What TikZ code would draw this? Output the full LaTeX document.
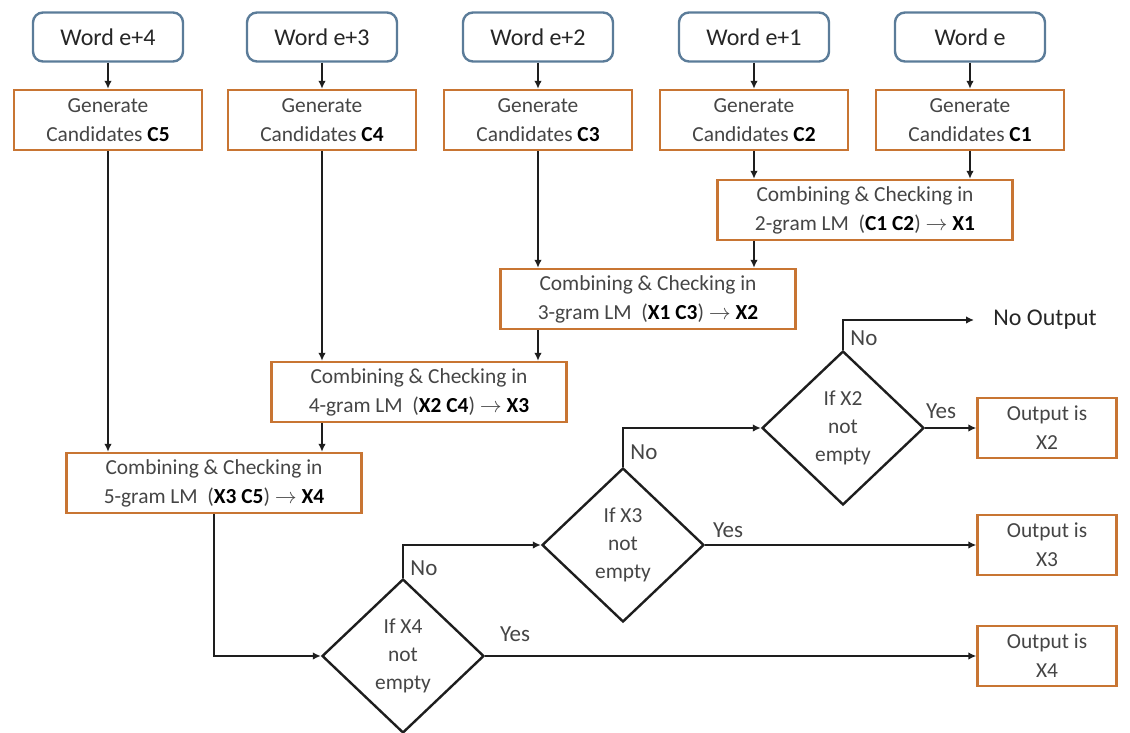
\documentclass[tikz,border=0pt]{standalone}
\usepackage{fontspec}
\setmainfont{Carlito}
\usetikzlibrary{shapes.geometric,arrows.meta,calc}
\definecolor{wordblue}{HTML}{5B7C99}
\definecolor{boxorange}{HTML}{C87533}
\definecolor{txtgray}{HTML}{454545}
\definecolor{linegray}{HTML}{1E1E1E}
\tikzset{
  wordbox/.style={draw=wordblue, line width=1.2pt, rounded corners=5pt, fill=white,
    minimum width=75pt, minimum height=24.5pt, inner sep=2pt, text=black!85,
    font=\fontsize{12}{14}\selectfont},
  genbox/.style={draw=boxorange, line width=1.2pt, fill=white, minimum width=94pt,
    minimum height=30pt, inner sep=2pt, align=center, text=txtgray,
    font=\fontsize{10.7}{14.5}\selectfont},
  combbox/.style={genbox, minimum width=147.5pt},
  outbox/.style={genbox, minimum width=69.5pt},
  decision/.style={draw=linegray, line width=1.2pt, diamond, minimum width=81pt,
    minimum height=77pt, inner sep=0pt, align=center, text=txtgray,
    font=\fontsize{10.7}{14}\selectfont},
  flow/.style={draw=linegray, line width=1.15pt, -{Latex[length=4pt,width=3.8pt]}},
  lbl/.style={inner sep=0pt, text=txtgray, font=\fontsize{11.5}{13}\selectfont},
}
\newcommand{\bx}[1]{\textbf{\color{black}#1}}
\begin{document}
\begin{tikzpicture}[x=0.5pt,y=-0.5pt]
\useasboundingbox (0,0) rectangle (1130,733);
% word nodes
\node[wordbox] (w5) at (108,37) {Word e+4};
\node[wordbox] (w4) at (322,37) {Word e+3};
\node[wordbox] (w3) at (538,37) {Word e+2};
\node[wordbox] (w2) at (754,37) {Word e+1};
\node[wordbox] (w1) at (970,37) {Word e};
% generate nodes
\node[genbox] (g5) at (108,120) {Generate\\Candidates \bx{C5}};
\node[genbox] (g4) at (322,120) {Generate\\Candidates \bx{C4}};
\node[genbox] (g3) at (538,120) {Generate\\Candidates \bx{C3}};
\node[genbox] (g2) at (754,120) {Generate\\Candidates \bx{C2}};
\node[genbox] (g1) at (970,120) {Generate\\Candidates \bx{C1}};
% combining nodes
\node[combbox] (c2) at (865,210) {Combining \& Checking in\\2-gram LM~~(\bx{C1 C2}) $\rightarrow$ \bx{X1}};
\node[combbox] (c3) at (648,299) {Combining \& Checking in\\3-gram LM~~(\bx{X1 C3}) $\rightarrow$ \bx{X2}};
\node[combbox] (c4) at (419,392) {Combining \& Checking in\\4-gram LM~~(\bx{X2 C4}) $\rightarrow$ \bx{X3}};
\node[combbox] (c5) at (214,483) {Combining \& Checking in\\5-gram LM~~(\bx{X3 C5}) $\rightarrow$ \bx{X4}};
% decisions
\node[decision] (d4) at (403,656) {If X4\\not\\empty};
\node[decision] (d3) at (623,545) {If X3\\not\\empty};
\node[decision] (d2) at (843,428) {If X2\\not\\empty};
% outputs
\node[outbox] (o4) at (1047,656) {Output is\\X4};
\node[outbox] (o3) at (1047,545) {Output is\\X3};
\node[outbox] (o2) at (1047,428) {Output is\\X2};
\node[anchor=west, inner sep=0pt, text=black!85, font=\fontsize{12}{14}\selectfont] (noout) at (993,320) {No Output};
% word -> generate
\foreach \i in {1,...,5} {\draw[flow] (w\i.south) -- (g\i.north);}
% generate -> combining
\draw[flow] (g2.south) -- (g2.south |- c2.north);
\draw[flow] (g1.south) -- (g1.south |- c2.north);
\draw[flow] (g2.south |- c2.south) -- (g2.south |- c3.north);
\draw[flow] (g3.south) -- (g3.south |- c3.north);
\draw[flow] (g3.south |- c3.south) -- (g3.south |- c4.north);
\draw[flow] (g4.south) -- (g4.south |- c4.north);
\draw[flow] (g4.south |- c4.south) -- (g4.south |- c5.north);
\draw[flow] (g5.south) -- (g5.south |- c5.north);
% combining -> decision
\draw[flow] (c5.south) |- (d4.west);
\draw[flow] (d4.north) |- (d3.west);
\draw[flow] (d3.north) |- (d2.west);
\draw[flow] (d2.north) |- ([xshift=-9.5pt]noout.west);
\draw[flow] (d4.east) -- (o4.west);
\draw[flow] (d3.east) -- (o3.west);
\draw[flow] (d2.east) -- (o2.west);
% labels
\node[lbl, anchor=west] (n4) at (410,568) {No};
\node[lbl, anchor=west] (n3) at (630,452) {No};
\node[lbl, anchor=west] (n2) at (850,338) {No};
\node[lbl] (y4) at (515,634) {Yes};
\node[lbl] (y3) at (728,530) {Yes};
\node[lbl] (y2) at (941,411) {Yes};
\end{tikzpicture}
\end{document}
